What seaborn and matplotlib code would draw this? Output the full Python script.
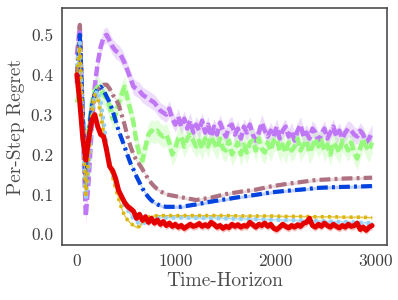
import numpy as np
import pandas as pd
import matplotlib
matplotlib.use("Agg")
import matplotlib.pyplot as plt
import seaborn as sns

# ---------------- data ----------------
x_noisy = list(range(0, 3000, 30))

purple = [0.45, 0.52, 0.26, 0.045, 0.14, 0.27, 0.37, 0.43, 0.47, 0.495,
          0.50, 0.485, 0.47, 0.46, 0.455, 0.445, 0.43, 0.41, 0.39, 0.37,
          0.365, 0.36, 0.35, 0.345, 0.34, 0.335, 0.33, 0.32, 0.31, 0.305,
          0.30, 0.315, 0.29, 0.275, 0.295, 0.27, 0.29, 0.265, 0.285, 0.255,
          0.275, 0.26, 0.285, 0.255, 0.275, 0.245, 0.27, 0.25, 0.28, 0.26,
          0.245, 0.27, 0.275, 0.25, 0.265, 0.24, 0.27, 0.255, 0.275, 0.25,
          0.235, 0.255, 0.28, 0.26, 0.245, 0.26, 0.245, 0.27, 0.24, 0.26,
          0.27, 0.245, 0.26, 0.235, 0.26, 0.275, 0.245, 0.255, 0.24, 0.265,
          0.255, 0.235, 0.25, 0.265, 0.24, 0.255, 0.27, 0.245, 0.26, 0.24,
          0.255, 0.265, 0.26, 0.25, 0.245, 0.26, 0.25, 0.23, 0.24, 0.255]

green = [0.33, 0.36, 0.24, 0.20, 0.27, 0.33, 0.36, 0.37, 0.36, 0.35,
         0.34, 0.32, 0.29, 0.30, 0.33, 0.35, 0.37, 0.34, 0.31, 0.28,
         0.23, 0.20, 0.185, 0.22, 0.25, 0.26, 0.255, 0.26, 0.25, 0.245,
         0.25, 0.23, 0.20, 0.215, 0.24, 0.245, 0.22, 0.24, 0.25, 0.235,
         0.22, 0.235, 0.215, 0.24, 0.22, 0.245, 0.23, 0.215, 0.24, 0.215,
         0.21, 0.235, 0.2, 0.215, 0.23, 0.2, 0.225, 0.205, 0.23, 0.235,
         0.21, 0.24, 0.215, 0.205, 0.23, 0.21, 0.235, 0.24, 0.21, 0.225,
         0.205, 0.23, 0.21, 0.22, 0.24, 0.21, 0.225, 0.235, 0.205, 0.22,
         0.24, 0.22, 0.235, 0.21, 0.225, 0.2, 0.23, 0.22, 0.205, 0.235,
         0.225, 0.21, 0.23, 0.205, 0.19, 0.215, 0.24, 0.22, 0.21, 0.23]

red = [0.40, 0.33, 0.24, 0.186, 0.24, 0.285, 0.30, 0.27, 0.25, 0.245,
       0.21, 0.17, 0.16, 0.14, 0.11, 0.095, 0.08, 0.07, 0.064, 0.058,
       0.04, 0.05, 0.035, 0.044, 0.03, 0.04, 0.028, 0.036, 0.025, 0.032,
       0.022, 0.028, 0.02, 0.025, 0.018, 0.022, 0.015, 0.02, 0.025, 0.02,
       0.022, 0.027, 0.02, 0.024, 0.02, 0.03, 0.025, 0.018, 0.022, 0.015,
       0.02, 0.017, 0.025, 0.02, 0.024, 0.018, 0.022, 0.02, 0.03, 0.024,
       0.018, 0.025, 0.022, 0.028, 0.02, 0.025, 0.015, 0.012, 0.018, 0.025,
       0.02, 0.016, 0.022, 0.018, 0.024, 0.02, 0.028, 0.03, 0.04, 0.022,
       0.018, 0.025, 0.02, 0.028, 0.022, 0.018, 0.025, 0.02, 0.016, 0.022,
       0.018, 0.025, 0.02, 0.022, 0.028, 0.012, 0.018, 0.01, 0.018, 0.022]

x_smooth = [0, 30, 60, 90, 120, 150, 180, 210, 240, 270, 300, 330, 360, 390,
            420, 450, 480, 510, 540, 570, 600, 630, 660, 690, 720, 750, 780,
            810, 840, 870, 900, 1050, 1200, 1350, 1500, 1650, 1800, 1950,
            2100, 2250, 2400, 2550, 2700, 2850, 2970]

brown = [0.40, 0.525, 0.30, 0.13, 0.25, 0.32, 0.35, 0.36, 0.37, 0.375,
         0.375, 0.365, 0.35, 0.34, 0.325, 0.30, 0.275, 0.245, 0.22, 0.20,
         0.185, 0.175, 0.163, 0.15, 0.138, 0.128, 0.12, 0.113, 0.108, 0.104,
         0.10, 0.093, 0.086, 0.092, 0.101, 0.107, 0.112, 0.12, 0.126, 0.131,
         0.136, 0.138, 0.14, 0.141, 0.142]

blue = [0.38, 0.50, 0.30, 0.12, 0.25, 0.32, 0.35, 0.365, 0.37, 0.36,
        0.345, 0.33, 0.31, 0.285, 0.26, 0.24, 0.22, 0.198, 0.178, 0.162,
        0.145, 0.13, 0.115, 0.103, 0.093, 0.085, 0.079, 0.075, 0.072, 0.07,
        0.069, 0.069, 0.075, 0.082, 0.088, 0.094, 0.099, 0.105, 0.109, 0.112,
        0.116, 0.118, 0.119, 0.12, 0.121]

lightblue = [0.42, 0.48, 0.25, 0.09, 0.17, 0.28, 0.35, 0.36, 0.33, 0.28,
             0.22, 0.18, 0.15, 0.125, 0.105, 0.088, 0.073, 0.062, 0.05, 0.04,
             0.032, 0.027, 0.026, 0.03, 0.035, 0.039, 0.041, 0.042, 0.042, 0.042,
             0.042, 0.042, 0.041, 0.041, 0.04, 0.039, 0.038, 0.037, 0.036, 0.035,
             0.034, 0.032, 0.031, 0.029, 0.028]

yellow = [0.40, 0.47, 0.26, 0.10, 0.20, 0.30, 0.35, 0.34, 0.30, 0.25,
          0.21, 0.18, 0.145, 0.115, 0.09, 0.065, 0.047, 0.036, 0.028, 0.022,
          0.018, 0.02, 0.03, 0.038, 0.043, 0.045, 0.046, 0.047, 0.047, 0.047,
          0.047, 0.047, 0.047, 0.047, 0.047, 0.046, 0.046, 0.046, 0.045, 0.045,
          0.044, 0.044, 0.043, 0.043, 0.042]

band_width = {"purple": 0.02, "green": 0.028, "brown": 0.004, "blue": 0.004,
              "lightblue": 0.004, "yellow": 0.003, "red": 0.01}

x_ticks = [0, 1000, 2000, 3000]
y_ticks = [0.0, 0.1, 0.2, 0.3, 0.4, 0.5]

# ---------------- style ----------------
sns.set_style("white")
plt.rcParams["font.family"] = ["cmr10", "DejaVu Serif"]
plt.rcParams["mathtext.fontset"] = "cm"
plt.rcParams["axes.formatter.use_mathtext"] = True
plt.rcParams["axes.edgecolor"] = "0.3"
plt.rcParams["axes.linewidth"] = 1.2

series = [
    ("purple", x_noisy, purple, "#bf77f6", 3.2, (2.2, 0.9)),
    ("green", x_noisy, green, "#96f97b", 3.2, (2.2, 0.9)),
    ("brown", x_smooth, brown, "#ae7181", 3.0, (2.6, 1.0, 0.7, 1.0)),
    ("blue", x_smooth, blue, "#0343df", 3.0, (2.6, 1.0, 0.7, 1.0)),
    ("lightblue", x_smooth, lightblue, "#95d0fc", 3.0, (0.8, 1.0)),
    ("yellow", x_smooth, yellow, "#dbb40c", 2.6, (0.8, 1.2)),
    ("red", x_noisy, red, "#e50000", 3.6, None),
]

fig = plt.figure(figsize=(3.98, 3.0), dpi=100)
ax = fig.add_axes([0.156, 0.183, 0.816, 0.79])

for name, xs, ys, col, lw, dash in series:
    df = pd.DataFrame({"x": xs, "y": ys})
    ylo = np.array(ys) - band_width[name]
    yhi = np.array(ys) + band_width[name]
    ax.fill_between(xs, ylo, yhi, color=col, alpha=0.25, linewidth=0)
    if name in ("lightblue", "yellow"):
        sns.lineplot(data=df, x="x", y="y", ax=ax, color=col, linewidth=0.9,
                     alpha=0.7)
    line_kw = {}
    if dash is not None:
        line_kw["dashes"] = dash
    sns.lineplot(data=df, x="x", y="y", ax=ax, color=col, linewidth=lw,
                 **line_kw)

ax.set_xticks(x_ticks)
ax.set_yticks(y_ticks)
ax.set_xticklabels([str(t) for t in x_ticks])
ax.set_yticklabels([f"{t:.1f}" for t in y_ticks])
ax.tick_params(labelsize=12.5, colors="0.25", pad=3)
ax.set_xlabel("Time-Horizon", fontsize=14, color="0.3", labelpad=2)
ax.set_ylabel("Per-Step Regret", fontsize=14, color="0.3", labelpad=4)
ax.margins(x=0.05, y=0.05)

fig.savefig("out.png", dpi=100)
